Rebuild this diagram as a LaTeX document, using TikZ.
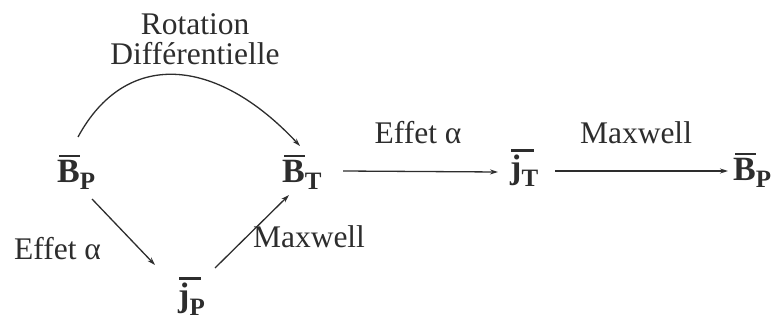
\documentclass[tikz,border=0pt]{standalone}
\usepackage{fontspec}
\setmainfont{Liberation Serif}
\usetikzlibrary{arrows.meta}
\definecolor{ink}{RGB}{45,45,45}
\newcommand\lbl{\fontsize{31.5}{32}\selectfont}
\newcommand\ovl[1]{\vbox{\hrule height 2.4pt \kern 2.6pt \hbox{#1}}}
\newcommand\Bsym[1]{\hbox{\ovl{\kern-2pt\fontsize{34}{34}\selectfont\textbf{B}}\kern0pt\raisebox{-7pt}{\fontsize{25}{25}\selectfont\textbf{#1}}}}
\newcommand\jsym[1]{\hbox{\ovl{\kern-1pt\fontsize{34}{34}\selectfont\textbf{j}\raisebox{-9pt}{\fontsize{25}{25}\selectfont\textbf{#1}}\kern-4pt}}}
\begin{document}
\begin{tikzpicture}[x=1pt,y=-1pt,
  every node/.style={text=ink},
  sym/.style={inner sep=0pt, anchor=base west},
  lab/.style={inner sep=0pt, anchor=base, font=\lbl},
  arr/.style={draw=ink, line width=1.3pt, -{Stealth[length=8pt,width=5pt]}}]
\useasboundingbox (0,0) rectangle (775,323);
\node[sym] (bp) at (59,182) {\Bsym{P}};
\node[sym] (bt) at (284,182) {\Bsym{T}};
\node[sym] (jp) at (179,306) {\jsym{P}};
\node[sym] (jt) at (511,178) {\jsym{T}};
\node[sym] (bq) at (735,180) {\Bsym{P}};
\node[lab] (rot1) at (195,35) {Rotation};
\node[lab] (rot2) at (195,65) {Différentielle};
\node[lab] (ea1) at (418,143) {Effet α};
\node[lab] (mx1) at (636,143) {Maxwell};
\node[lab] (ea2) at (57.5,259) {Effet α};
\node[lab] (mx2) at (309,247) {Maxwell};
\draw[arr] ([shift={(19,-45)}]bp.base west) .. controls (125,50) and (215,55) .. ([shift={(16,-36)}]bt.base west);
\draw[arr] ([shift={(33,17)}]bp.base west) -- ([shift={(-24,-41)}]jp.base west);
\draw[arr] ([shift={(36,-38)}]jp.base west) -- ([shift={(5,13)}]bt.base west);
\draw[arr] ([shift={(59,-11)}]bt.base west) -- ([shift={(-13,-6)}]jt.base west);
\draw[arr] ([shift={(44,-7)}]jt.base west) -- ([shift={(-7,-9)}]bq.base west);
\end{tikzpicture}
\end{document}
